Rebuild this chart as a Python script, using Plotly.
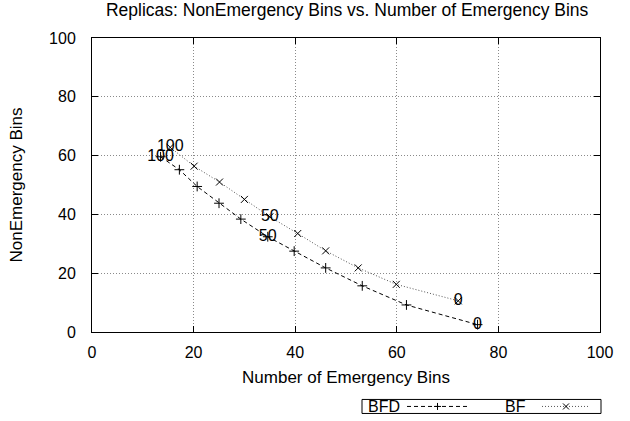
import plotly.graph_objects as go

# Number of Emergency Bins (x) and NonEmergency Bins (y) per replica setting
bfd_x = [13.5, 17.2, 20.7, 25.0, 29.3, 34.6, 39.8, 46.0, 53.2, 61.9, 75.9]
bfd_y = [59.6, 55.2, 49.5, 43.8, 38.4, 32.4, 27.5, 21.8, 15.7, 9.2, 2.5]
bf_x = [15.4, 20.1, 25.1, 30.0, 35.0, 40.5, 46.0, 52.4, 59.9, 72.1]
bf_y = [62.8, 56.4, 51.0, 45.1, 39.2, 33.5, 27.6, 21.8, 16.2, 10.6]

# Replica counts written next to selected points (index -> text)
bfd_labels = {0: "100", 5: "50", 10: "0"}
bf_labels = {0: "100", 4: "50", 9: "0"}

title_text = "Replicas: NonEmergency Bins vs. Number of Emergency Bins"
x_title = "Number of Emergency Bins"
y_title = "NonEmergency Bins"
ticks = [0, 20, 40, 60, 80, 100]

FONT = "Liberation Sans, Arial, Helvetica, sans-serif"

fig = go.Figure()

fig.add_trace(go.Scatter(
    x=bfd_x, y=bfd_y, mode="lines+markers", name="BFD",
    line=dict(color="#000000", width=1, dash="4px,3px"),
    marker=dict(symbol="cross-thin", size=7, line=dict(color="#000000", width=1)),
    showlegend=False,
))
fig.add_trace(go.Scatter(
    x=bf_x, y=bf_y, mode="lines+markers", name="BF",
    line=dict(color="#555555", width=1, dash="1px,2px"),
    marker=dict(symbol="x-thin", size=7, line=dict(color="#000000", width=1)),
    showlegend=False,
))

# Replica-count labels centred on their points
for xs, ys, labels in ((bfd_x, bfd_y, bfd_labels), (bf_x, bf_y, bf_labels)):
    idx = sorted(labels)
    fig.add_trace(go.Scatter(
        x=[xs[i] for i in idx], y=[ys[i] for i in idx],
        text=[labels[i] for i in idx], mode="text",
        textposition="middle center",
        textfont=dict(family=FONT, size=16, color="#000000"),
        showlegend=False, hoverinfo="skip",
    ))

axis_common = dict(
    range=[0, 100], tickvals=ticks, ticktext=[str(t) for t in ticks],
    showline=True, linecolor="#000000", linewidth=1, mirror="allticks",
    ticks="inside", ticklen=6, tickcolor="#000000", tickwidth=1,
    showgrid=True, gridcolor="#8a8a8a", gridwidth=1, griddash="1px,2px",
    zeroline=False, tickfont=dict(family=FONT, size=16, color="#000000"),
)

fig.update_layout(
    width=630, height=421,
    margin=dict(l=92, r=30, t=38, b=89),
    paper_bgcolor="#ffffff", plot_bgcolor="#ffffff",
    title=dict(text=title_text, x=0.551, xanchor="center", y=0.976, yanchor="middle",
               font=dict(family=FONT, size=17.5, color="#000000")),
    xaxis=dict(axis_common, ticklabelstandoff=6,
               title=dict(text=x_title, standoff=10,
                          font=dict(family=FONT, size=17, color="#000000"))),
    yaxis=dict(axis_common, ticklabelstandoff=12,
               title=dict(text=y_title, standoff=22,
                          font=dict(family=FONT, size=17, color="#000000"))),
)

# Legend box below the plot: label text followed by a line sample
def px_x(p):
    return (p - 92) / 508.0

def px_y(p):
    return (331.7 - p) / 293.4

fig.add_shape(type="rect", xref="paper", yref="paper",
              x0=px_x(362), x1=px_x(601), y0=px_y(413), y1=px_y(399),
              line=dict(color="#000000", width=1), fillcolor="rgba(0,0,0,0)")

legend_items = [
    ("BFD", 402, 407, 468, "4px,3px", "#000000", "+"),
    ("BF", 528, 542, 590, "1px,2px", "#555555", "x"),
]
ly = px_y(406)
for name, text_right, l0, l1, dash, col, mk in legend_items:
    fig.add_annotation(x=px_x(text_right), y=ly, xref="paper", yref="paper",
                       text=name, showarrow=False, xanchor="right", yanchor="middle",
                       font=dict(family=FONT, size=16, color="#000000"))
    fig.add_shape(type="line", xref="paper", yref="paper",
                  x0=px_x(l0), x1=px_x(l1), y0=ly, y1=ly,
                  line=dict(color=col, width=1, dash=dash))
    cx = (l0 + l1) / 2
    if mk == "+":
        segs = [((cx - 3.5, 406), (cx + 3.5, 406)), ((cx, 402.5), (cx, 409.5))]
    else:
        segs = [((cx - 3, 403), (cx + 3, 409)), ((cx - 3, 409), (cx + 3, 403))]
    for (ax, ay), (bx, by) in segs:
        fig.add_shape(type="line", xref="paper", yref="paper",
                      x0=px_x(ax), x1=px_x(bx), y0=px_y(ay), y1=px_y(by),
                      line=dict(color="#000000", width=1))

fig.write_html("out.html")
